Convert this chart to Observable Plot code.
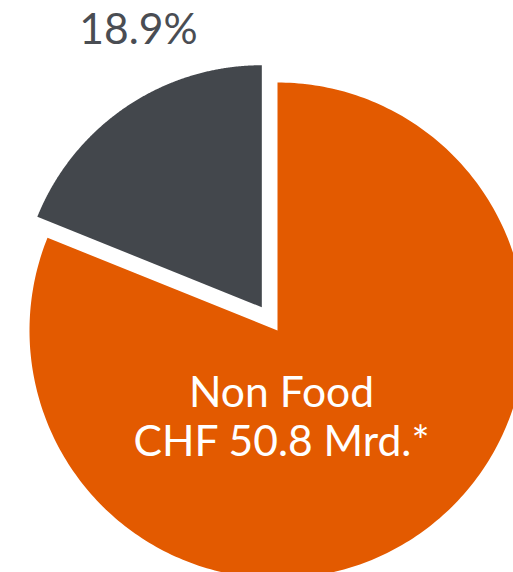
<!DOCTYPE html>
<html><head><meta charset="utf-8">
<script src="https://cdn.jsdelivr.net/npm/d3@7"></script>
<script src="https://cdn.jsdelivr.net/npm/@observablehq/plot@0.6"></script>
<style>html,body{margin:0;padding:0;background:#fff}</style>
</head><body><div id="chart"></div>
<script>
const categories = ["Non Food", "Food"];
const shares = [81.1, 18.9];
const colors = ["#e35a00", "#43474c"];
const labels = ["Non Food\nCHF 50.8 Mrd.*", "18.9%"];

const W = 513, H = 572;
const cx = 277, cy = 330, R = 248;           // layout (px)
const radii = [1, 0.976];                      // relative radius per slice
const explode = [0, 0.113];                    // offset along mid-angle

const arcs = d3.pie().sort(null).value(d => d)(shares);
const pts = [];
arcs.forEach((a, i) => {
  const mid = (a.startAngle + a.endAngle) / 2;
  const ox = explode[i] * Math.sin(mid), oy = explode[i] * Math.cos(mid);
  pts.push({cat: categories[i], x: ox, y: oy});
  const n = 300;
  for (let k = 0; k <= n; k++) {
    const t = a.startAngle + (a.endAngle - a.startAngle) * k / n;
    pts.push({cat: categories[i], x: ox + radii[i] * Math.sin(t), y: oy + radii[i] * Math.cos(t)});
  }
  pts.push({cat: categories[i], x: ox, y: oy});
});

const labelData = [
  {text: labels[0], x: (281 - cx) / R, y: (cy - 415) / R, fill: "#ffffff"},
  {text: labels[1], x: (138 - cx) / R, y: (cy - 28) / R, fill: "#4a4d53"}
];

const chart = Plot.plot({
  width: W, height: H,
  margin: 0,
  x: {domain: [-cx / R, (W - cx) / R], axis: null},
  y: {domain: [-(H - cy) / R, cy / R], axis: null},
  style: {fontFamily: "Lato, 'Open Sans', sans-serif", background: "#fff"},
  marks: [
    Plot.line(pts, {x: "x", y: "y", z: "cat", fill: d => colors[categories.indexOf(d.cat)], stroke: "none", curve: "linear"}),
    Plot.text(labelData, {x: "x", y: "y", text: "text", fill: "fill", fontSize: 42.6, lineHeight: 1.16, textAnchor: "middle", lineAnchor: "middle"})
  ]
});
document.getElementById("chart").appendChild(chart);
</script>
</body></html>
